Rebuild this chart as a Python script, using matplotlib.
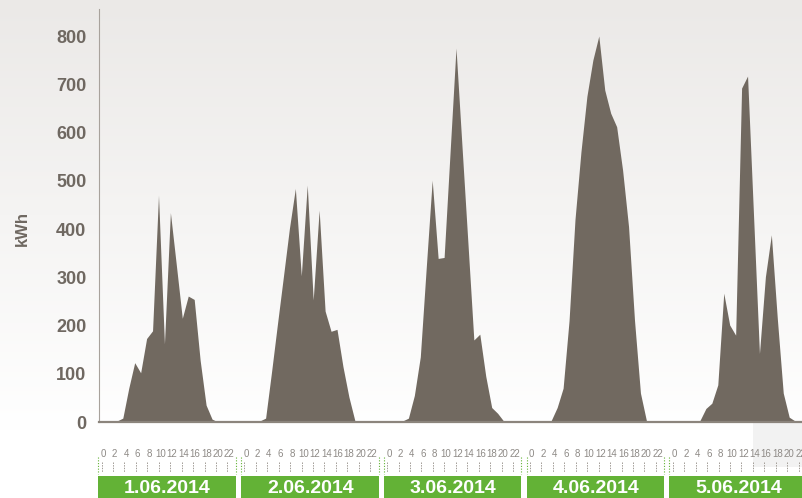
import numpy as np
import matplotlib
matplotlib.use("Agg")
import matplotlib.pyplot as plt
from matplotlib.patches import Rectangle
from matplotlib.transforms import blended_transform_factory

# ---- data (kWh per hour) ----
days = ["1.06.2014", "2.06.2014", "3.06.2014", "4.06.2014", "5.06.2014"]
day1 = [0, 0, 0, 2, 8, 70, 123, 102, 173, 189, 470, 162, 434, 325, 215, 261, 254, 128, 35, 6, 0, 0, 0, 0]
day2 = [0, 0, 0, 2, 8, 104, 204, 302, 401, 484, 303, 491, 253, 439, 230, 188, 192, 115, 52, 3, 0, 0, 0, 0]
day3 = [0, 0, 0, 2, 8, 55, 135, 320, 501, 339, 341, 558, 775, 573, 372, 170, 182, 95, 30, 18, 2, 0, 0, 0]
day4 = [0, 0, 0, 0, 3, 30, 70, 210, 420, 560, 675, 750, 800, 688, 640, 612, 522, 405, 211, 60, 3, 0, 0, 0]
day5 = [0, 0, 0, 0, 0, 3, 28, 39, 77, 267, 201, 180, 692, 717, 430, 142, 301, 388, 215, 60, 10, 2, 0, 0]
hour_labels = [0, 2, 4, 6, 8, 10, 12, 14, 16, 18, 20, 22]
y_ticks = [0, 100, 200, 300, 400, 500, 600, 700, 800]

values = np.array(day1 + day2 + day3 + day4 + day5, dtype=float)
hours = np.arange(len(values))

FILL = "#716960"
GREEN = "#63b236"
LABEL = "#6f6861"
SANS = ["Liberation Sans", "DejaVu Sans"]

W, H = 803, 498
fig = plt.figure(figsize=(W / 100, H / 100), dpi=100)

# background gradient
bg = fig.add_axes([0, 0, 1, 1], zorder=-10)
grad = np.ones((H, 1, 3))
top = np.array([235, 233, 231]) / 255.0
for i in range(H):
    t = min(i / 430.0, 1.0)
    grad[i, 0, :] = top * (1 - t) + 1.0 * t
bg.imshow(grad, aspect="auto", extent=[0, 1, 0, 1], origin="upper")
# faint overlay box bottom right
bg.add_patch(Rectangle((753 / W, 1 - 467 / H), 50 / W, 44 / H, color="#f2f2f2", lw=0))
bg.axis("off")

# main axes
ax_left, ax_bottom, ax_top = 99, 422, 9
px_per_hour = 5.95
ax = fig.add_axes([ax_left / W, (H - ax_bottom) / H, (W - ax_left) / W, (ax_bottom - ax_top) / H])
ax.set_facecolor("none")
ax.fill_between(hours, values, 0, color=FILL, lw=0)
ax.set_xlim(0, (W - ax_left) / px_per_hour)
ax.set_ylim(0, (ax_bottom - ax_top) / 0.4825)
ax.set_xticks([])
ax.set_yticks(y_ticks)
ax.set_yticklabels([str(v) for v in y_ticks], fontsize=13, fontweight="bold", color=LABEL, family=SANS)
ax.tick_params(axis="y", length=0, pad=9)
for s in ["top", "right"]:
    ax.spines[s].set_visible(False)
ax.spines["left"].set_color("#a8a29c")
ax.spines["left"].set_linewidth(0.8)
ax.spines["bottom"].set_color("#8b847c")
ax.spines["bottom"].set_linewidth(1.6)

fig.text(22 / W, 1 - 228 / H, "kWh", rotation=90, ha="center", va="center",
         fontsize=12, fontweight="bold", color=LABEL, family=SANS)

trans = blended_transform_factory(ax.transData, ax.transAxes)
hax = ax_bottom - ax_top


def yf(p):
    return (ax_bottom - p) / hax


label_step = 11.45 / px_per_hour / 2  # label spacing per hour
label_off = 4.3 / px_per_hour
for d, name in enumerate(days):
    start = d * 24
    # green date box
    ax.add_patch(Rectangle((start - 0.15, yf(500)), 23.15, yf(476) - yf(500), transform=trans,
                           color=GREEN, lw=0, clip_on=False))
    ax.text(start + 11.5, yf(488.5), name, transform=trans, ha="center", va="center",
            fontsize=14, fontweight="bold", color="white", clip_on=False, family=SANS)
    # green dotted bracket edges
    for ex in (start - 0.15, start + 23.0):
        ax.plot([ex, ex], [yf(457), yf(474)], transform=trans, color=GREEN, lw=0.8,
                ls=(0, (1, 1.5)), clip_on=False)
    for h in hour_labels:
        x = start + label_off + h * label_step
        ax.text(x, yf(453.5), str(h), transform=trans, ha="center", va="center",
                fontsize=7, color="#8e8a86", clip_on=False, family=SANS)
        ax.plot([x - 0.3, x - 0.3], [yf(462), yf(472)], transform=trans, color="#a09a94",
                lw=0.7, ls=(0, (1.5, 1.2)), clip_on=False)

fig.savefig("out.png", dpi=100)
